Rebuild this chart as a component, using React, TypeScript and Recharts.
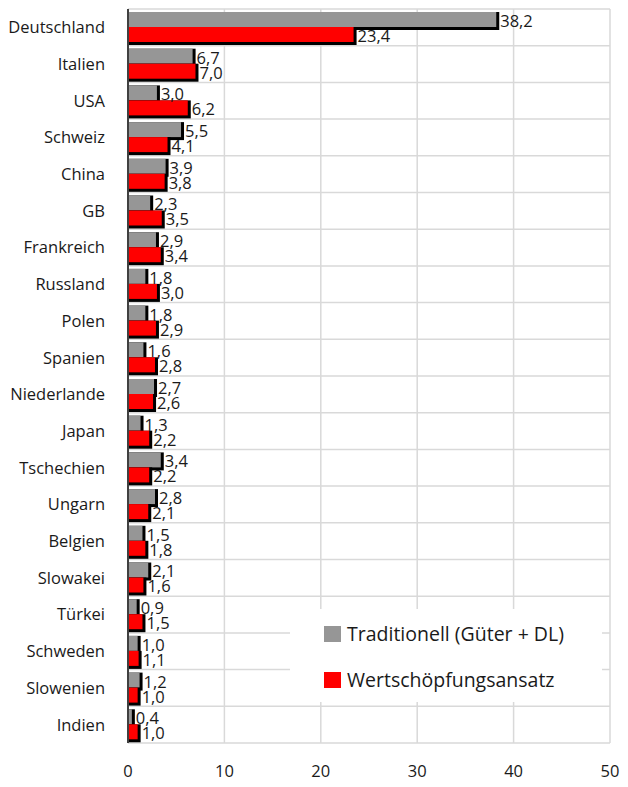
import { BarChart, Bar, XAxis, YAxis, CartesianGrid, LabelList } from 'recharts';

const countries = [
  'Deutschland', 'Italien', 'USA', 'Schweiz', 'China', 'GB', 'Frankreich', 'Russland', 'Polen', 'Spanien',
  'Niederlande', 'Japan', 'Tschechien', 'Ungarn', 'Belgien', 'Slowakei', 'Türkei', 'Schweden', 'Slowenien', 'Indien',
];
const traditionell = [38.2, 6.7, 3.0, 5.5, 3.9, 2.3, 2.9, 1.8, 1.8, 1.6, 2.7, 1.3, 3.4, 2.8, 1.5, 2.1, 0.9, 1.0, 1.2, 0.4];
const wertschoepfung = [23.4, 7.0, 6.2, 4.1, 3.8, 3.5, 3.4, 3.0, 2.9, 2.8, 2.6, 2.2, 2.2, 2.1, 1.8, 1.6, 1.5, 1.1, 1.0, 1.0];
const xTicks = [0, 10, 20, 30, 40, 50];

const seriesNames = ['Traditionell (Güter + DL)', 'Wertschöpfungsansatz'];
const seriesColors = ['#969696', '#ff0000'];

const data = countries.map((name, i) => ({
  name,
  trad: traditionell[i],
  wert: wertschoepfung[i],
}));

const FONT = '"Open Sans", "Noto Sans", sans-serif';

// bar with a hard black drop shadow to the right / below
function ShadowBar(props: any) {
  const { x, y, width, height, fill } = props;
  if (width == null || height == null) return null;
  return (
    <g>
      <rect x={x} y={y} width={width + 3} height={height + 3} fill="#000" />
      <rect x={x} y={y} width={width} height={height} fill={fill} />
    </g>
  );
}

function ValueLabel(props: any) {
  const { x, y, width, height, value } = props;
  return (
    <text
      x={x + width + 4}
      y={y + height / 2 + 3}
      dominantBaseline="middle"
      fontSize={16.5}
      fontFamily={FONT}
      fill="#1a1a1a"
    >
      {Number(value).toFixed(1).replace('.', ',')}
    </text>
  );
}

export default function App() {
  return (
    <div style={{ position: 'absolute', left: 0, top: 0, width: 628, height: 787, background: '#fff' }}>
      <BarChart
        width={628}
        height={787}
        data={data}
        layout="vertical"
        margin={{ top: 9, right: 18, bottom: 0, left: 0 }}
        barSize={15}
        barGap={0}
      >
        <CartesianGrid
          stroke="#d9d9d9"
          strokeWidth={1.5}
          horizontalCoordinatesGenerator={({ offset }: any) =>
            countries.map((_, i) => offset.top + (i * offset.height) / countries.length).concat(offset.top + offset.height)
          }
        />
        <XAxis
          type="number"
          domain={[0, 50]}
          ticks={xTicks}
          axisLine={false}
          tickLine={false}
          tickSize={0}
          tickMargin={22}
          height={44}
          tick={{ fontSize: 16.5, fontFamily: FONT, fill: '#1a1a1a' }}
          interval={0}
        />
        <YAxis
          type="category"
          dataKey="name"
          width={128}
          axisLine={{ stroke: '#404040', strokeWidth: 2 }}
          tickLine={false}
          tickMargin={17}
          interval={0}
          tick={{ fontSize: 16.5, fontFamily: FONT, fill: '#1a1a1a' }}
        />
        <Bar dataKey="trad" fill={seriesColors[0]} shape={<ShadowBar />} isAnimationActive={false}>
          <LabelList dataKey="trad" content={<ValueLabel />} />
        </Bar>
        <Bar dataKey="wert" fill={seriesColors[1]} shape={<ShadowBar />} isAnimationActive={false}>
          <LabelList dataKey="wert" content={<ValueLabel />} />
        </Bar>
      </BarChart>
      <div
        style={{
          position: 'absolute',
          left: 290,
          top: 609,
          width: 312,
          height: 93,
          background: '#fff',
          fontFamily: FONT,
          fontSize: 19.5,
          color: '#1a1a1a',
        }}
      >
        {seriesNames.map((n, i) => (
          <div
            key={n}
            style={{ position: 'absolute', left: 34, top: 11 + i * 46, display: 'flex', alignItems: 'center', whiteSpace: 'nowrap' }}
          >
            <span style={{ display: 'inline-block', width: 17, height: 16, background: seriesColors[i], marginRight: 6 }} />
            <span>{n}</span>
          </div>
        ))}
      </div>
    </div>
  );
}
